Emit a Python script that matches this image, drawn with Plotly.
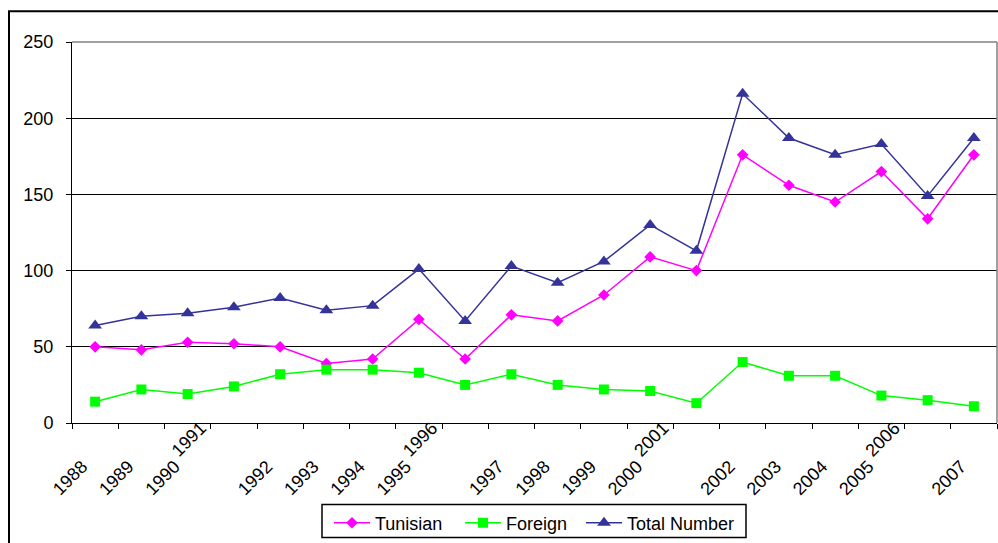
import plotly.graph_objects as go

# Annual counts by origin
years = [str(y) for y in range(1988, 2008)]
tunisian = [50, 48, 53, 52, 50, 39, 42, 68, 42, 71, 67, 84, 109, 100, 176, 156, 145, 165, 134, 176]
foreign = [14, 22, 19, 24, 32, 35, 35, 33, 25, 32, 25, 22, 21, 13, 40, 31, 31, 18, 15, 11]
total = [64, 70, 72, 76, 82, 74, 77, 101, 67, 103, 92, 106, 130, 113, 216, 187, 176, 183, 149, 187]

# Year labels that sit on the raised row under the axis
raised_labels = ["1991", "1996", "2001", "2006"]
normal_labels = [y for y in years if y not in raised_labels]

FONT = "Liberation Sans, Arial, sans-serif"

# plot-area geometry in pixels, used to place legends/frames in paper units
L, R, T, B, W, H = 72, 1, 42, 118, 998, 543
PW, PH = W - L - R, H - T - B


def px_x(p):
    return (p - L) / PW


def px_y(p):
    return (H - B - p) / PH


series = [
    ("Tunisian", tunisian, "#FF00FF", "diamond", 9, "legend", 329),
    ("Foreign", foreign, "#00FF00", "square", 10, "legend2", 460),
    ("Total Number", total, "#333399", "triangle-up", 12, "legend3", 581),
]

fig = go.Figure()
legends = {}
for name, vals, color, sym, size, leg, lx in series:
    fig.add_trace(go.Scatter(
        x=years, y=vals, name=name, mode="lines+markers",
        line=dict(color=color, width=1.5),
        marker=dict(symbol=sym, size=size, color=color),
        legend=leg,
    ))
    legends[leg] = dict(
        orientation="h", x=px_x(lx), xanchor="left", y=px_y(507), yanchor="top",
        borderwidth=0, bgcolor="rgba(0,0,0,0)", itemwidth=36,
        font=dict(family=FONT, size=18, color="black"),
    )

cat_axis = dict(type="category", categoryorder="array", categoryarray=years,
                range=[-0.5, len(years) - 0.5], showgrid=False, zeroline=False)
val_axis = dict(range=[0, 250], dtick=50, zeroline=False)
label_font = dict(family=FONT, size=18, color="black")
clear = "rgba(0,0,0,0)"

fig.update_layout(
    width=W, height=H,
    margin=dict(l=L, r=R, t=T, b=B),
    paper_bgcolor="white", plot_bgcolor="white",
    font=dict(family=FONT, size=18, color="black"),
    showlegend=True,
    **legends,
    # main category axis: line and boundary tick marks
    xaxis=dict(
        **cat_axis,
        tickson="boundaries", ticks="outside", ticklen=5, tickcolor="black",
        showticklabels=False,
        showline=True, linecolor="black", linewidth=1,
    ),
    # raised row of year labels
    xaxis2=dict(
        **cat_axis, overlaying="x", side="bottom",
        tickvals=raised_labels, ticktext=raised_labels,
        tickangle=-45, tickfont=label_font,
        ticks="", showline=False, ticklabelshift=-33, ticklabelstandoff=-10,
    ),
    # regular row of year labels
    xaxis3=dict(
        **cat_axis, overlaying="x", side="bottom",
        tickvals=normal_labels, ticktext=normal_labels,
        tickangle=-45, tickfont=label_font,
        ticks="outside", ticklen=25, tickcolor=clear,
        showline=False, ticklabelshift=-13,
    ),
    # value axis: line, tick marks and gridlines
    yaxis=dict(
        **val_axis, ticks="outside", ticklen=5, tickcolor="black",
        showline=True, linecolor="black", linewidth=1,
        showgrid=True, gridcolor="black", gridwidth=1,
        showticklabels=False,
    ),
    # value labels, set a little further from the axis
    yaxis2=dict(
        **val_axis, overlaying="y", side="left", anchor="x",
        ticks="outside", ticklen=14, tickcolor=clear,
        showline=False, showgrid=False, tickfont=label_font,
    ),
)

# invisible carriers so the overlay label axes are drawn
fig.add_trace(go.Scatter(x=raised_labels, y=[None] * len(raised_labels),
                         xaxis="x2", yaxis="y2", showlegend=False, hoverinfo="skip"))
fig.add_trace(go.Scatter(x=normal_labels, y=[None] * len(normal_labels),
                         xaxis="x3", showlegend=False, hoverinfo="skip"))

# Plot-area frame on the top and right
fig.add_shape(type="line", xref="paper", yref="paper", x0=0, x1=1, y0=1, y1=1,
              line=dict(color="#808080", width=1.5))
fig.add_shape(type="line", xref="paper", yref="paper", x0=1, x1=1, y0=0, y1=1,
              line=dict(color="#808080", width=1.5))
# Legend box
fig.add_shape(type="rect", xref="paper", yref="paper",
              x0=px_x(322), x1=px_x(746), y0=px_y(540), y1=px_y(507),
              line=dict(color="black", width=1.5))
# Chart-area frame
fig.add_shape(type="rect", xref="paper", yref="paper",
              x0=px_x(9), x1=px_x(1005), y0=px_y(560), y1=px_y(11),
              line=dict(color="black", width=2), layer="above")

fig.write_html("out.html")
